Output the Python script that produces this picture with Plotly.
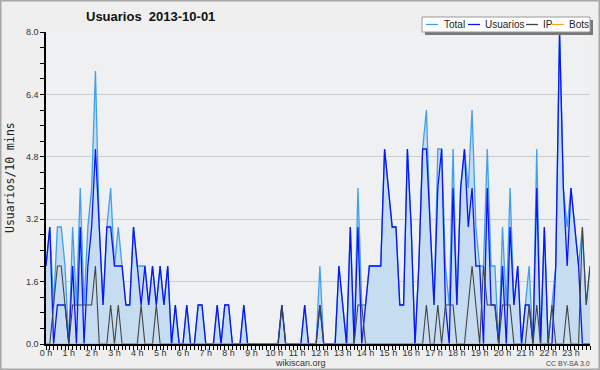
import plotly.graph_objects as go

# 10-minute slots over the day (index 0..143)
slots = list(range(144))
hour_labels = [f"{h} h" for h in range(24)]
hour_ticks = [h * 6 for h in range(24)]

usuarios = [2, 3, 0, 1, 1, 1, 0, 2, 0, 3, 0, 2, 3, 5, 3, 1, 3, 3, 2, 2,
            2, 1, 1, 3, 2, 1, 2, 1, 2, 1, 2, 1, 2, 0, 1, 0, 0, 1, 0, 0,
            1, 1, 0, 0, 0, 1, 0, 1, 1, 0, 0, 0, 1, 0, 0, 0, 0, 0, 0, 0,
            0, 0, 1, 0, 0, 0, 0, 0, 1, 0, 0, 0, 1, 0, 0, 0, 0, 2, 1, 0,
            3, 0, 3, 0, 1, 2, 2, 2, 2, 5, 4, 3, 3, 1, 1, 5, 3, 0, 2, 5,
            5, 3, 1, 4, 5, 1, 0, 4, 1, 4, 5, 3, 4, 2, 2, 0, 4, 1, 1, 0,
            2, 0, 3, 1, 2, 0, 1, 1, 0, 4, 0, 3, 0, 0, 2, 8, 4, 2, 4, 3,
            2, 0, 0, 0]
ip = [0, 0, 1, 2, 2, 1, 0, 1, 1, 1, 1, 1, 1, 2, 0, 0, 0, 1, 0, 1,
      0, 0, 0, 0, 0, 1, 0, 0, 0, 1, 0, 0, 0, 0, 0, 0, 0, 0, 0, 0,
      0, 0, 0, 0, 0, 0, 0, 0, 0, 0, 0, 0, 0, 0, 0, 0, 0, 0, 0, 0,
      0, 0, 1, 0, 0, 0, 0, 0, 0, 0, 0, 0, 1, 0, 0, 0, 0, 0, 0, 0,
      0, 0, 1, 1, 0, 0, 0, 0, 0, 0, 0, 0, 0, 0, 0, 0, 0, 0, 0, 0,
      1, 0, 0, 1, 0, 1, 1, 1, 0, 0, 0, 1, 2, 1, 0, 2, 1, 1, 1, 0,
      1, 1, 1, 0, 0, 0, 0, 1, 0, 1, 0, 0, 0, 1, 0, 0, 0, 1, 0, 0,
      0, 3, 1, 2]
total = [2, 3, 1, 3, 3, 2, 0, 3, 1, 4, 1, 3, 4, 7, 3, 1, 3, 4, 2, 3,
         2, 1, 1, 3, 2, 2, 2, 1, 2, 1, 2, 1, 2, 0, 1, 0, 0, 1, 0, 0,
         1, 1, 0, 0, 0, 1, 0, 1, 1, 0, 0, 0, 1, 0, 0, 0, 0, 0, 0, 0,
         0, 0, 1, 0, 0, 0, 0, 0, 1, 0, 0, 0, 2, 0, 0, 0, 0, 2, 1, 0,
         3, 0, 4, 1, 1, 2, 2, 2, 2, 5, 4, 3, 3, 1, 1, 5, 3, 0, 2, 5,
         6, 3, 1, 5, 5, 2, 1, 5, 1, 4, 5, 4, 6, 3, 2, 2, 5, 2, 2, 0,
         3, 1, 4, 1, 2, 0, 1, 2, 0, 5, 0, 3, 0, 1, 2, 8, 4, 3, 4, 3,
         2, 3, 1, 2]
bots = [0] * 144

y_ticks = [0, 1.6, 3.2, 4.8, 6.4, 8.0]

C_TOTAL = "#3f9ff0"
C_FILL = "#c6ddf1"
C_USR = "#0a14ff"
C_IP = "#444444"
C_BOTS = "#ffa31a"

fig = go.Figure()
fig.add_trace(go.Scatter(x=slots, y=total, name="Total", mode="lines",
                         line=dict(color=C_TOTAL, width=1.3),
                         fill="tozeroy", fillcolor=C_FILL))
fig.add_trace(go.Scatter(x=slots, y=usuarios, name="Usuarios", mode="lines",
                         line=dict(color=C_USR, width=1.3)))
fig.add_trace(go.Scatter(x=slots, y=ip, name="IP", mode="lines",
                         line=dict(color=C_IP, width=1.1)))
fig.add_trace(go.Scatter(x=slots, y=bots, name="Bots", mode="lines",
                         line=dict(color=C_BOTS, width=1.1)))

L, R, T, B = 46, 10, 32, 26
W, H = 600, 370
pw, ph = W - L - R, H - T - B


def px(xp):
    return (xp - L) / pw


def py(yp):
    return (H - B - yp) / ph


fig.update_layout(
    width=W, height=H,
    margin=dict(l=L, r=R, t=T, b=B, pad=0),
    paper_bgcolor="#efefef",
    plot_bgcolor="#eff0f2",
    showlegend=False,
    font=dict(family="Liberation Sans, Arial, sans-serif", size=9, color="#333333"),
)
fig.update_xaxes(
    range=[0, 143], showgrid=False, zeroline=False, automargin=False,
    showline=True, linecolor="black", linewidth=1.5,
    tickmode="array", tickvals=hour_ticks, ticktext=hour_labels,
    ticks="outside", ticklen=4, tickcolor="black", tickwidth=1,
    ticklabelstandoff=-5,
    tickfont=dict(size=9, color="#333333"),
    minor=dict(dtick=1, tick0=0, ticks="outside", ticklen=4, tickcolor="black", tickwidth=1),
)
fig.update_yaxes(
    range=[0, 8], zeroline=False, automargin=False,
    showline=True, linecolor="black", linewidth=1.5,
    tickmode="array", tickvals=y_ticks, ticktext=[f"{v:.1f}" for v in y_ticks],
    ticks="outside", ticklen=4, tickcolor="black",
    showgrid=True, gridcolor="#cccccc", gridwidth=1,
    tickfont=dict(size=9, color="#333333"),
    minor=dict(dtick=0.4, tick0=0, ticks="outside", ticklen=4, tickcolor="black", showgrid=False),
)

shapes = []
# outer frame
shapes.append(dict(type="rect", xref="paper", yref="paper",
                   x0=px(0), x1=px(W), y0=py(H), y1=py(0),
                   line=dict(color="#a8a8a8", width=3), fillcolor="rgba(0,0,0,0)", layer="above"))
# legend box with shadow
shapes.append(dict(type="rect", xref="paper", yref="paper",
                   x0=px(425), x1=px(593), y0=py(35), y1=py(20),
                   line=dict(width=0), fillcolor="#777777", layer="above"))
shapes.append(dict(type="rect", xref="paper", yref="paper",
                   x0=px(422), x1=px(590), y0=py(32), y1=py(17),
                   line=dict(color="#999999", width=1), fillcolor="#ffffff", layer="above"))

annotations = []
legend_items = [("Total", C_TOTAL, 426, 442), ("Usuarios", C_USR, 468, 483),
                ("IP", C_IP, 526, 541), ("Bots", C_BOTS, 552, 567)]
for name, col, lx, tx in legend_items:
    shapes.append(dict(type="line", xref="paper", yref="paper",
                       x0=px(lx), x1=px(lx + 12), y0=py(24.5), y1=py(24.5),
                       line=dict(color=col, width=1.3), layer="above"))
    annotations.append(dict(text=name, xref="paper", yref="paper",
                            x=px(tx), y=py(24.5), xanchor="left", yanchor="middle",
                            showarrow=False, font=dict(size=10, color="#222222")))

annotations.append(dict(text="<b>Usuarios&nbsp;&nbsp;2013-10-01</b>", xref="paper", yref="paper",
                        x=px(150), y=py(17), xanchor="center", yanchor="middle",
                        showarrow=False,
                        font=dict(family="Liberation Sans, Arial, sans-serif", size=13, color="#111111")))
annotations.append(dict(text="Usuarios/10 mins", xref="paper", yref="paper",
                        x=px(10), y=py(178), xanchor="center", yanchor="middle",
                        textangle=-90, showarrow=False,
                        font=dict(family="DejaVu Sans Mono, monospace", size=11.5, color="#222222")))
annotations.append(dict(text="wikiscan.org", xref="paper", yref="paper",
                        x=px(300), y=py(362.5), xanchor="center", yanchor="middle",
                        showarrow=False, font=dict(size=9, color="#333333")))
annotations.append(dict(text="CC BY-SA 3.0", xref="paper", yref="paper",
                        x=px(592), y=py(363), xanchor="right", yanchor="middle",
                        showarrow=False, font=dict(size=7, color="#444444")))

fig.update_layout(shapes=shapes, annotations=annotations)
fig.write_html("out.html")
